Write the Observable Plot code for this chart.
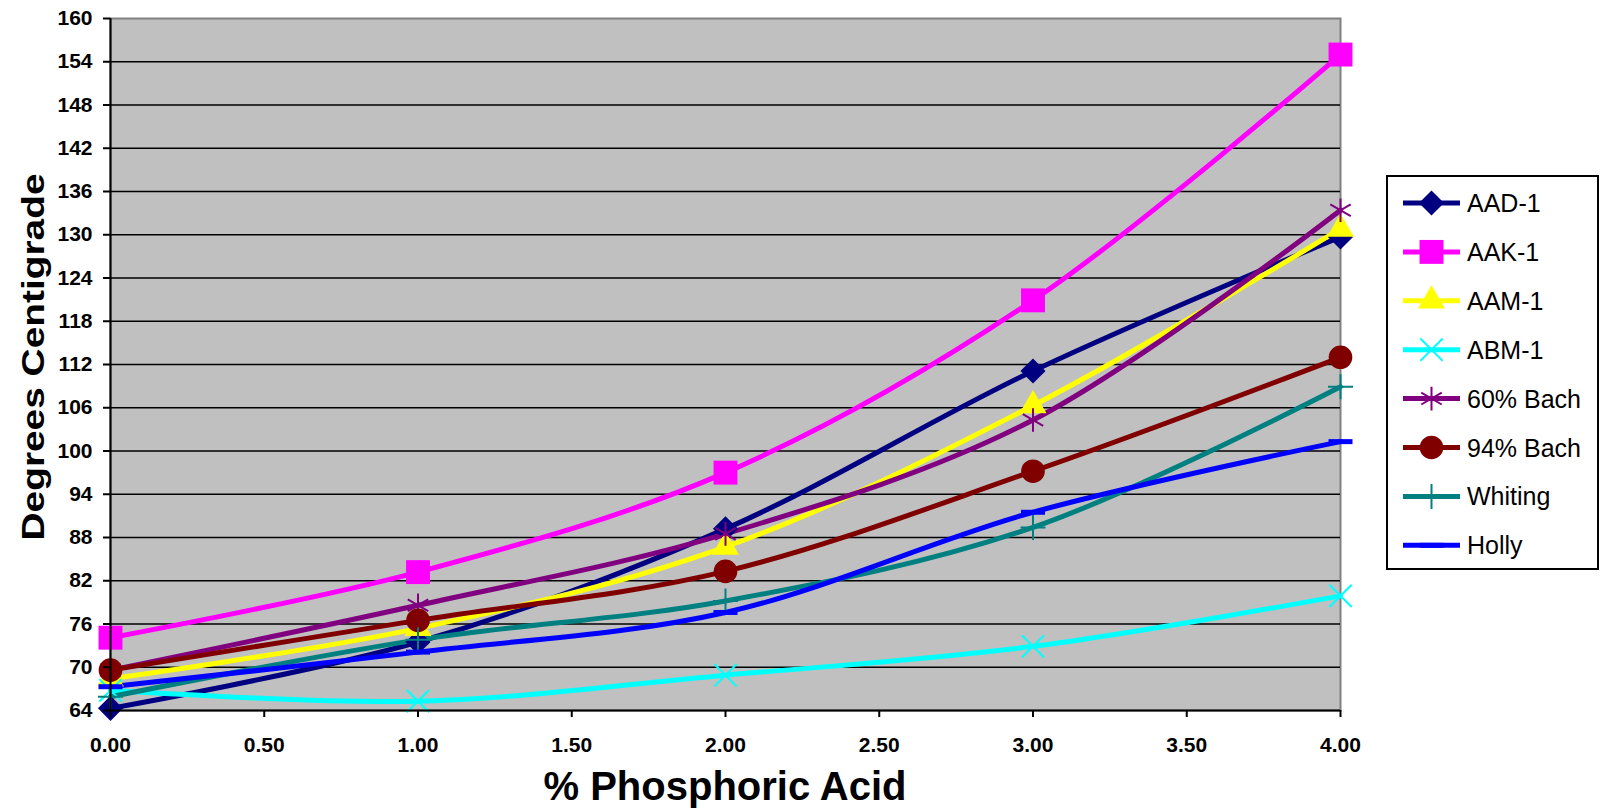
<!DOCTYPE html>
<html>
<head>
<meta charset="utf-8">
<script src="https://cdn.jsdelivr.net/npm/d3@7"></script>
<script src="https://cdn.jsdelivr.net/npm/@observablehq/plot@0.6"></script>
<style>
  html, body { margin: 0; padding: 0; background: #fff; }
  #chart { position: relative; width: 1604px; height: 810px; }
</style>
</head>
<body>
<div id="chart"></div>
<script>
// ---- data ----
const xValues = [0, 1, 2, 3, 4];
const seriesNames = ["AAD-1", "AAK-1", "AAM-1", "ABM-1", "60% Bach", "94% Bach", "Whiting", "Holly"];
const aad1    = [64.3, 73.5, 89.2, 111.1, 129.7];
const aak1    = [74.1, 83.2, 97.0, 120.9, 155.0];
const aam1    = [68.4, 75.4, 86.7, 106.3, 130.8];
const abm1    = [66.8, 65.3, 68.9, 72.9, 79.9];
const bach60  = [69.6, 78.6, 88.5, 104.3, 133.4];
const bach94  = [69.6, 76.5, 83.3, 97.2, 113.0];
const whiting = [65.9, 73.8, 79.2, 89.4, 108.9];
const holly   = [67.3, 72.1, 77.6, 91.5, 101.3];
const xTicks = [0, 0.5, 1, 1.5, 2, 2.5, 3, 3.5, 4];
const yTicks = [64, 70, 76, 82, 88, 94, 100, 106, 112, 118, 124, 130, 136, 142, 148, 154, 160];

// ---- styles ----
const dash = {draw(ctx, size) { const r = Math.sqrt(size / Math.PI); ctx.moveTo(-r, 0); ctx.lineTo(r, 0); }};
const styles = [
  {color: "#000080", symbol: "diamond2", r: 11.3, filled: true},
  {color: "#FF00FF", symbol: "square",   r: 13.5, filled: true},
  {color: "#FFFF00", symbol: "triangle", r: 10,   filled: true},
  {color: "#00FFFF", symbol: "times",    r: 10.2, filled: false, sw: 2},
  {color: "#800080", symbol: "asterisk", r: 11.2, filled: false, sw: 2},
  {color: "#800000", symbol: "circle",   r: 11.8, filled: true},
  {color: "#008080", symbol: "plus",     r: 8.1,  filled: false, sw: 2},
  {color: "#0000FF", symbol: dash,       r: 12,   filled: false, sw: 5}
];
const seriesValues = [aad1, aak1, aam1, abm1, bach60, bach94, whiting, holly];
const rows = seriesNames.map((name, i) => xValues.map((x, j) => ({series: name, x, y: seriesValues[i][j]})));

const font = "Arial, 'Liberation Sans', sans-serif";

const lineMarks = rows.map((data, i) => Plot.line(data, {x: "x", y: "y", stroke: styles[i].color, strokeWidth: 5, curve: "catmull-rom"}));
const dotMarks = rows.map((data, i) => {
  const s = styles[i];
  return Plot.dot(data, s.filled
    ? {x: "x", y: "y", symbol: () => s.symbol, r: s.r, fill: s.color, stroke: "none"}
    : {x: "x", y: "y", symbol: () => s.symbol, r: s.r, fill: "none", stroke: s.color, strokeWidth: s.sw});
});

const chart = Plot.plot({
  width: 1604,
  height: 810,
  marginLeft: 110,
  marginRight: 264,
  marginTop: 18,
  marginBottom: 100,
  style: {fontFamily: font, background: "#fff", color: "#000"},
  x: {domain: [0, 4]},
  y: {domain: [64, 160]},
  symbol: {type: "identity"},
  marks: [
    Plot.frame({fill: "#C0C0C0", stroke: "#808080", strokeWidth: 2}),
    Plot.ruleY(yTicks.slice(1, -1), {stroke: "#000", strokeWidth: 1.5}),
    ...lineMarks,
    ...dotMarks,
    Plot.ruleX([0], {stroke: "#000", strokeWidth: 2}),
    Plot.ruleY([64], {stroke: "#000", strokeWidth: 2}),
    Plot.axisX({ticks: xTicks, tickFormat: d => d.toFixed(2), tickSize: 7, tickPadding: 20, fontSize: 21, fontWeight: "bold", label: null, strokeWidth: 2}),
    Plot.axisY({ticks: yTicks, tickFormat: d => String(d), tickSize: 7, tickPadding: 11, fontSize: 21, fontWeight: "bold", label: null, strokeWidth: 2})
  ]
});

document.getElementById("chart").appendChild(chart);

// ---- axis titles & legend, appended into the same SVG ----
const svg = d3.select(chart);
svg.append("text")
  .attr("x", 725).attr("y", 800)
  .attr("text-anchor", "middle")
  .attr("font-family", font).attr("font-weight", "bold").attr("font-size", 40)
  .text("% Phosphoric Acid");
svg.append("text")
  .attr("transform", "translate(44,357) rotate(-90)")
  .attr("text-anchor", "middle")
  .attr("font-family", font).attr("font-weight", "bold").attr("font-size", 32)
  .attr("textLength", 367).attr("lengthAdjust", "spacingAndGlyphs")
  .text("Degrees Centigrade");

const legend = svg.append("g");
legend.append("rect")
  .attr("x", 1387).attr("y", 176).attr("width", 211).attr("height", 393)
  .attr("fill", "#fff").attr("stroke", "#000").attr("stroke-width", 2);
const symMap = {diamond2: d3.symbolDiamond2, square: d3.symbolSquare, triangle: d3.symbolTriangle, times: d3.symbolTimes, asterisk: d3.symbolAsterisk, circle: d3.symbolCircle, plus: d3.symbolPlus};
seriesNames.forEach((name, i) => {
  const s = styles[i];
  const cy = 203 + i * 48.9;
  const g = legend.append("g");
  g.append("line").attr("x1", 1403).attr("x2", 1460).attr("y1", cy).attr("y2", cy)
    .attr("stroke", s.color).attr("stroke-width", 5);
  const type = typeof s.symbol === "string" ? symMap[s.symbol] : s.symbol;
  const path = d3.symbol(type, Math.PI * s.r * s.r)();
  const p = g.append("path").attr("d", path).attr("transform", `translate(1431.5,${cy})`);
  if (s.filled) p.attr("fill", s.color);
  else p.attr("fill", "none").attr("stroke", s.color).attr("stroke-width", s.sw);
  g.append("text").attr("x", 1467).attr("y", cy).attr("dy", "0.36em")
    .attr("text-anchor", "start")
    .attr("font-family", font).attr("font-size", 25).attr("fill", "#000")
    .text(name);
});
</script>
</body>
</html>
